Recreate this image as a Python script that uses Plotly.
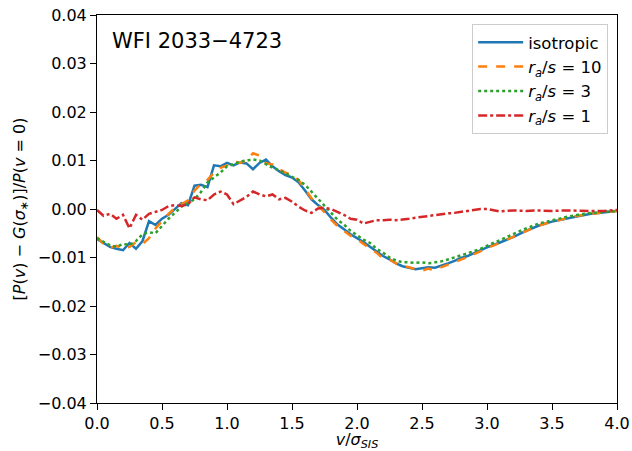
import plotly.graph_objects as go

x = [0.00, 0.05, 0.10, 0.15, 0.20, 0.25, 0.30, 0.35, 0.40, 0.45,
     0.50, 0.55, 0.60, 0.65, 0.70, 0.75, 0.80, 0.85, 0.90, 0.95,
     1.00, 1.05, 1.10, 1.15, 1.20, 1.25, 1.30, 1.35, 1.40, 1.45,
     1.50, 1.55, 1.60, 1.65, 1.70, 1.75, 1.80, 1.85, 1.90, 1.95,
     2.00, 2.05, 2.10, 2.15, 2.20, 2.25, 2.30, 2.35, 2.40, 2.45,
     2.50, 2.55, 2.60, 2.65, 2.70, 2.75, 2.80, 2.85, 2.90, 2.95,
     3.00, 3.10, 3.20, 3.30, 3.40, 3.50, 3.60, 3.70, 3.80, 3.90, 4.00]

isotropic = [-0.0062, -0.0070, -0.0078, -0.0082, -0.0085, -0.0070, -0.0082, -0.0066, -0.0025, -0.0033,
             -0.0020, -0.0012, 0.0000, 0.0012, 0.0008, 0.0048, 0.0050, 0.0045, 0.0090, 0.0088,
             0.0095, 0.0090, 0.0096, 0.0094, 0.0082, 0.0095, 0.0102, 0.0088, 0.0078, 0.0070,
             0.0065, 0.0055, 0.0038, 0.0020, 0.0008, -0.0002, -0.0018, -0.0032, -0.0042, -0.0052,
             -0.0060, -0.0068, -0.0078, -0.0088, -0.0097, -0.0104, -0.0112, -0.0118, -0.0121, -0.0124,
             -0.0122, -0.0120, -0.0121, -0.0117, -0.0112, -0.0107, -0.0101, -0.0097, -0.0091, -0.0085,
             -0.0079, -0.0069, -0.0058, -0.0045, -0.0034, -0.0026, -0.0020, -0.0015, -0.0010, -0.0007, -0.0004]

ra10 = [-0.0058, -0.0072, -0.0080, -0.0076, -0.0082, -0.0078, -0.0068, -0.0072, -0.0060, -0.0040,
        -0.0025, -0.0010, 0.0002, 0.0010, 0.0018, 0.0038, 0.0052, 0.0060, 0.0075, 0.0085,
        0.0090, 0.0098, 0.0095, 0.0100, 0.0115, 0.0110, 0.0094, 0.0092, 0.0082, 0.0075,
        0.0070, 0.0060, 0.0042, 0.0022, 0.0008, -0.0008, -0.0022, -0.0035, -0.0045, -0.0055,
        -0.0062, -0.0072, -0.0082, -0.0090, -0.0102, -0.0104, -0.0112, -0.0118, -0.0120, -0.0124,
        -0.0127, -0.0123, -0.0126, -0.0120, -0.0115, -0.0110, -0.0104, -0.0099, -0.0093, -0.0087,
        -0.0081, -0.0070, -0.0058, -0.0045, -0.0034, -0.0026, -0.0020, -0.0014, -0.0010, -0.0007, -0.0004]

ra3 = [-0.0060, -0.0068, -0.0075, -0.0078, -0.0072, -0.0074, -0.0066, -0.0052, -0.0048, -0.0050,
       -0.0035, -0.0020, -0.0008, 0.0005, 0.0012, 0.0020, 0.0035, 0.0055, 0.0065, 0.0075,
       0.0088, 0.0092, 0.0098, 0.0100, 0.0102, 0.0100, 0.0092, 0.0085, 0.0080, 0.0074,
       0.0066, 0.0060, 0.0050, 0.0036, 0.0020, 0.0006, -0.0008, -0.0022, -0.0032, -0.0045,
       -0.0054, -0.0063, -0.0070, -0.0082, -0.0090, -0.0100, -0.0106, -0.0110, -0.0110, -0.0111,
       -0.0110, -0.0112, -0.0110, -0.0108, -0.0104, -0.0100, -0.0095, -0.0091, -0.0087, -0.0082,
       -0.0076, -0.0064, -0.0052, -0.0040, -0.0030, -0.0023, -0.0017, -0.0012, -0.0008, -0.0006, -0.0004]

ra1 = [-0.0002, -0.0014, -0.0010, -0.0020, -0.0012, -0.0040, -0.0012, -0.0022, -0.0010, -0.0006,
       -0.0002, 0.0006, 0.0008, 0.0006, 0.0010, 0.0024, 0.0020, 0.0018, 0.0030, 0.0036,
       0.0030, 0.0010, 0.0018, 0.0025, 0.0036, 0.0030, 0.0026, 0.0030, 0.0020, 0.0023,
       0.0015, 0.0005, -0.0003, -0.0008, 0.0001, 0.0002, 0.0000, -0.0006, -0.0012, -0.0020,
       -0.0022, -0.0030, -0.0026, -0.0023, -0.0023, -0.0022, -0.0023, -0.0022, -0.0020, -0.0018,
       -0.0016, -0.0014, -0.0012, -0.0010, -0.0009, -0.0008, -0.0006, -0.0004, -0.0002, 0.0000,
       0.0000, -0.0005, -0.0003, -0.0004, -0.0003, -0.0004, -0.0003, -0.0004, -0.0004, -0.0004, -0.0002]

yticks = [-0.04, -0.03, -0.02, -0.01, 0.00, 0.01, 0.02, 0.03, 0.04]
xticks = [0.0, 0.5, 1.0, 1.5, 2.0, 2.5, 3.0, 3.5, 4.0]

series = [
    ("isotropic", isotropic, "#1f77b4", "solid"),
    ("<i>r</i><sub><i>a</i></sub>/<i>s</i> = 10", ra10, "#ff7f0e", "dash"),
    ("<i>r</i><sub><i>a</i></sub>/<i>s</i> = 3", ra3, "#2ca02c", "dot"),
    ("<i>r</i><sub><i>a</i></sub>/<i>s</i> = 1", ra1, "#d62728", "dashdot"),
]

fig = go.Figure()
for name, vals, color, dash in series:
    fig.add_trace(go.Scatter(x=x, y=vals, mode="lines", name=name,
                             line=dict(color=color, width=2.5, dash=dash)))

font = "DejaVu Sans"
axis_common = dict(showline=True, linecolor="black", linewidth=1, mirror=True,
                   ticks="outside", ticklen=6, tickcolor="black", showgrid=False,
                   zeroline=False, automargin=False,
                   tickfont=dict(family=font, size=16, color="black"))

fig.update_layout(
    width=632, height=451,
    margin=dict(l=97, r=15, t=15, b=48),
    plot_bgcolor="white", paper_bgcolor="white",
    font=dict(family=font, size=16, color="black"),
    xaxis=dict(range=[0, 4], tickvals=xticks, ticktext=[f"{v:.1f}" for v in xticks],
               title=dict(text="<i>v</i>/<i>σ</i><sub><i>SIS</i></sub>",
                          font=dict(family=font, size=16), standoff=2),
               **axis_common),
    yaxis=dict(range=[-0.04, 0.04], tickvals=yticks,
               ticktext=[f"{v:.2f}".replace("-", "−") for v in yticks],
               title=dict(text="[<i>P</i>(<i>v</i>) − <i>G</i>(<i>σ</i><sub>∗</sub>)]/<i>P</i>(<i>v</i> = 0)",
                          font=dict(family=font, size=16), standoff=8),
               **axis_common),
    legend=dict(x=0.983, y=0.977, xanchor="right", yanchor="top",
                bgcolor="rgba(255,255,255,0.8)", bordercolor="#cccccc", borderwidth=1,
                itemwidth=45, font=dict(family=font, size=16.5)),
    annotations=[dict(text="WFI 2033−4723", xref="paper", yref="paper",
                      x=0.025, y=0.934, xanchor="left", yanchor="middle",
                      showarrow=False, font=dict(family=font, size=21, color="black"))],
)

fig.write_html("out.html")
